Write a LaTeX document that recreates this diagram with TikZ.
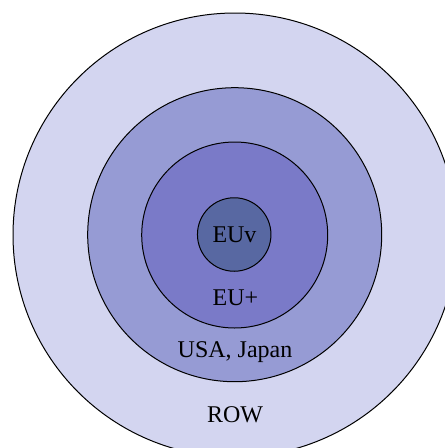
\documentclass[tikz,border=0pt]{standalone}
\usepackage{fontspec}
\setmainfont{Liberation Serif}
\definecolor{ringrow}{RGB}{211,213,240}
\definecolor{ringusa}{RGB}{150,155,212}
\definecolor{ringeup}{RGB}{122,122,200}
\definecolor{ringeuv}{RGB}{88,104,162}
\begin{document}
\begin{tikzpicture}[x=1pt,y=-1pt,
  ring/.style={circle,draw=black,line width=1pt,inner sep=0pt},
  lbl/.style={anchor=base,inner sep=0pt,font=\fontsize{24}{28}\selectfont}]
\useasboundingbox (0,0) rectangle (445,448);
\clip (0,0) rectangle (445,448);
% concentric regions, outermost first
\node[ring,fill=ringrow,minimum size=444pt] (row) at (235,235) {};
\node[ring,fill=ringusa,minimum size=294pt] (usa) at (234.7,234.7) {};
\node[ring,fill=ringeup,minimum size=186pt] (eup) at (234.7,235) {};
\node[ring,fill=ringeuv,minimum size=73.5pt] (euv) at (234.2,234.5) {};
% labels
\node[lbl] (teuv) at (234.5,242) {EUv};
\node[lbl] (teup) at (235.5,305) {EU+};
\node[lbl] (tusa) at (235,357) {USA, Japan};
\node[lbl] (trow) at (235,422) {ROW};
\end{tikzpicture}
\end{document}
